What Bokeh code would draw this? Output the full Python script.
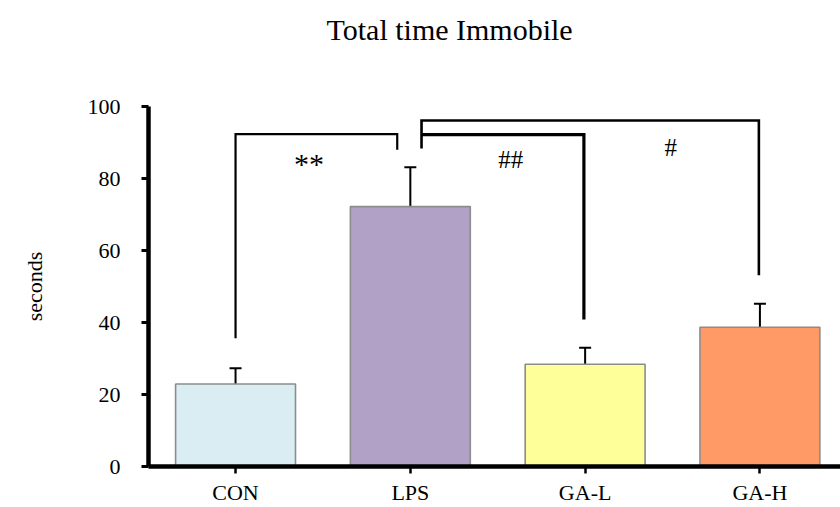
from bokeh.plotting import figure
from bokeh.models import (ColumnDataSource, Range1d, FixedTicker, Whisker, TeeHead, Title)
from bokeh.core.properties import value
from bokeh.embed import file_html
from bokeh.resources import INLINE

# Immobility data per group (mean seconds and standard error)
categories = ["CON", "LPS", "GA-L", "GA-H"]
means = [22.9, 72.2, 28.4, 38.7]
errors = [4.4, 10.9, 4.6, 6.5]
colors = ["#DAEDF3", "#B2A1C7", "#FFFF99", "#FF9966"]
y_ticks = [0, 20, 40, 60, 80, 100]

# Significance brackets: (x path, y path, line width)
brackets = [
    ([0.0, 0.0, 0.925, 0.925], [35.6, 92.3, 92.3, 88.0], 2.2),
    ([1.064, 1.064, 2.994, 2.994], [88.3, 96.1, 96.1, 53.1], 2.6),
    ([1.064, 1.993, 1.993], [92.2, 92.2, 40.8], 3.2),
]
marks = ["**", "##", "#"]
mark_x = [0.42, 1.575, 2.49]
mark_y = [84.3, 85.4, 88.6]
mark_size = ["30px", "25px", "25px"]

FONT = "Liberation Serif"

x_pos = list(range(len(categories)))
src = ColumnDataSource(dict(
    x=x_pos,
    top=means,
    color=colors,
    lower=means,
    upper=[m + e for m, e in zip(means, errors)],
))

p = figure(width=840, height=507, output_backend="svg", toolbar_location=None,
           x_range=Range1d(-0.498, 3.461), y_range=Range1d(0, 100),
           min_border_left=148, min_border_right=0, min_border_top=106,
           min_border_bottom=41)
p.outline_line_color = None
p.xgrid.visible = False
p.ygrid.visible = False
p.background_fill_color = "white"
p.border_fill_color = "white"

# empty band between the plot frame and the title
p.add_layout(Title(text=" ", text_font_size="10px", standoff=48), "above")
title = Title(text="Total time Immobile", text_font=FONT, text_font_size="30px",
              text_font_style="normal", text_color="black", align="left",
              offset=178, standoff=0)
p.add_layout(title, "above")

p.vbar(x="x", top="top", bottom=0, width=0.686, source=src,
       fill_color="color", line_color="#8C8C8C", line_width=1.6)

p.add_layout(Whisker(source=src, base="x", lower="lower", upper="upper",
                     line_color="black", line_width=2,
                     upper_head=TeeHead(size=12, line_width=2, line_color="black"),
                     lower_head=None))

for xs, ys, lw in brackets:
    p.line(xs, ys, line_color="black", line_width=lw, line_join="miter")

p.text(x=mark_x, y=mark_y, text=marks, text_font=value(FONT),
       text_font_size=mark_size, text_align="center", text_baseline="middle",
       text_color="black")

# y axis
p.yaxis.ticker = FixedTicker(ticks=y_ticks)
p.yaxis.axis_label = "seconds"
p.yaxis.axis_label_text_font = FONT
p.yaxis.axis_label_text_font_style = "normal"
p.yaxis.axis_label_text_font_size = "22px"
p.yaxis.axis_label_text_color = "black"
p.yaxis.axis_label_standoff = 38
p.yaxis.major_label_text_font = FONT
p.yaxis.major_label_text_font_size = "22px"
p.yaxis.major_label_text_color = "black"
p.yaxis.major_label_standoff = 21
p.yaxis.axis_line_width = 4.5
p.yaxis.axis_line_color = "black"
p.yaxis.major_tick_line_width = 3
p.yaxis.major_tick_line_color = "black"
p.yaxis.major_tick_in = 0
p.yaxis.major_tick_out = 7
p.yaxis.minor_tick_line_color = None

# x axis
p.xaxis.ticker = FixedTicker(ticks=x_pos)
p.xaxis.major_label_overrides = {i: c for i, c in enumerate(categories)}
p.xaxis.major_label_text_font = FONT
p.xaxis.major_label_text_font_size = "22px"
p.xaxis.major_label_text_color = "black"
p.xaxis.major_label_standoff = 6
p.xaxis.axis_line_width = 4.5
p.xaxis.axis_line_color = "black"
p.xaxis.major_tick_line_width = 2.5
p.xaxis.major_tick_line_color = "black"
p.xaxis.major_tick_in = 0
p.xaxis.major_tick_out = 7
p.xaxis.minor_tick_line_color = None

open("out.html", "w").write(file_html(p, INLINE))
